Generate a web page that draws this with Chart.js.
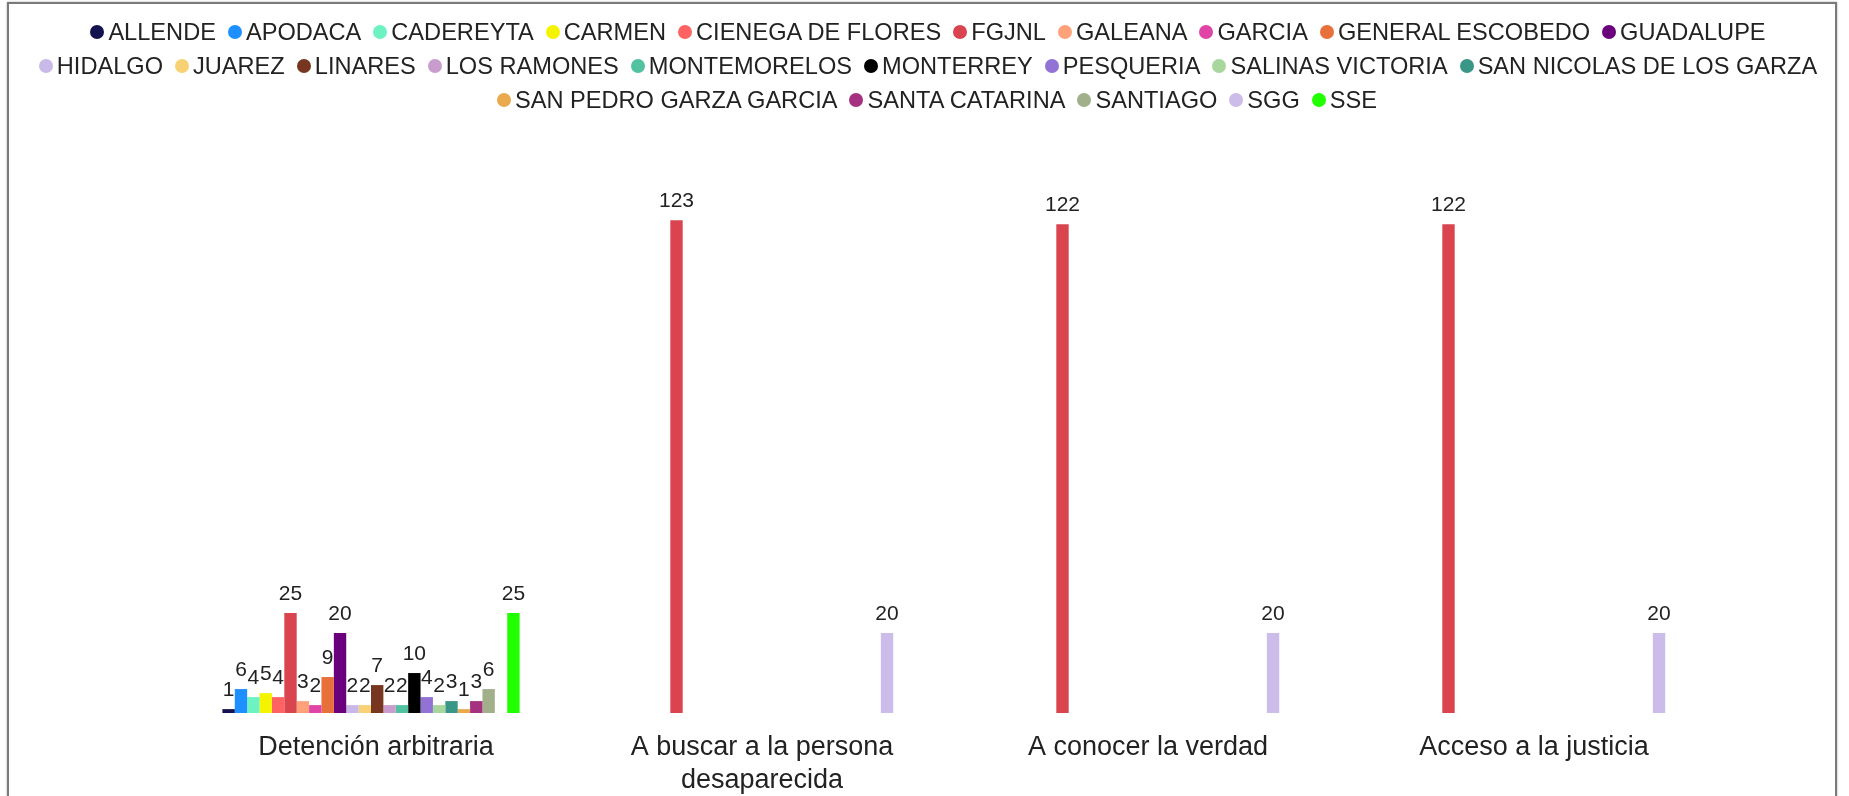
<!DOCTYPE html>
<html>
<head>
<meta charset="utf-8">
<script src="https://cdn.jsdelivr.net/npm/chart.js@4.4.1/dist/chart.umd.min.js"></script>
<style>
body { margin: 0; background: #fff; overflow: hidden; }
#frame {
position: absolute; left: 7px; top: 2px; width: 1826px; height: 830px;
border: 2px solid #7a7a7a; box-shadow: 0 0 2px #aaa;
}
#wrap { position: absolute; left: 0; top: 0; width: 1826px; height: 813px; }
#legend {
position: absolute; left: 0; top: 15px; width: 1856px;
font-family: "Liberation Sans", Arial, sans-serif; font-size: 23.6px; color: #222;
}
#legend .row { display: flex; justify-content: center; height: 34px; align-items: center; }
#legend .row:nth-child(3) { padding-left: 18px; }
#legend .item { display: flex; align-items: center; margin: 0 6px; white-space: nowrap; }
#legend .dot { width: 14px; height: 14px; border-radius: 50%; margin-right: 4px; }
</style>
</head>
<body>
<div id="frame"><div id="wrap"><canvas id="chart"></canvas></div></div>
<div id="legend"></div>
<script>
// Categories (x axis)
const categories = [
'Detención arbitraria',
['A buscar a la persona', 'desaparecida'],
'A conocer la verdad',
'Acceso a la justicia'
];

// Series (one per authority)
const seriesNames = [
'ALLENDE', 'APODACA', 'CADEREYTA', 'CARMEN', 'CIENEGA DE FLORES', 'FGJNL',
'GALEANA', 'GARCIA', 'GENERAL ESCOBEDO', 'GUADALUPE', 'HIDALGO', 'JUAREZ',
'LINARES', 'LOS RAMONES', 'MONTEMORELOS', 'MONTERREY', 'PESQUERIA',
'SALINAS VICTORIA', 'SAN NICOLAS DE LOS GARZA', 'SAN PEDRO GARZA GARCIA',
'SANTA CATARINA', 'SANTIAGO', 'SGG', 'SSE'
];
const seriesColors = [
'#14134f', '#1e8fff', '#6cf3c1', '#f4f400', '#ff6262', '#d9444f',
'#ffa27a', '#df44a6', '#e8703a', '#6b007d', '#c9b9e9', '#f8d174',
'#773620', '#c89ccd', '#52c1a0', '#000000', '#9272d4',
'#a7d79c', '#3a9686', '#e9a94c',
'#a6317f', '#a1b08a', '#cbbcea', '#22ff00'
];
// legend lines start at these series
const legendRowStarts = [0, 10, 19];

// Values per category, in series order
const detencion = [1, 6, 4, 5, 4, 25, 3, 2, 9, 20, 2, 2, 7, 2, 2, 10, 4, 2, 3, 1, 3, 6, null, 25];
const buscar = [null, null, null, null, null, 123, null, null, null, null, null, null,
null, null, null, null, null, null, null, null, null, null, 20, null];
const verdad = [null, null, null, null, null, 122, null, null, null, null, null, null,
null, null, null, null, null, null, null, null, null, null, 20, null];
const justicia = [null, null, null, null, null, 122, null, null, null, null, null, null,
null, null, null, null, null, null, null, null, null, null, 20, null];

const FONT = '"Liberation Sans", Arial, sans-serif';

const datasets = seriesNames.map((name, i) => ({
label: name,
data: [detencion[i], buscar[i], verdad[i], justicia[i]],
backgroundColor: seriesColors[i],
borderWidth: 0,
barPercentage: 1.0,
categoryPercentage: 0.77
}));

// Value labels above bars
const valueLabels = {
id: 'valueLabels',
afterDatasetsDraw(chart) {
const ctx = chart.ctx;
ctx.save();
ctx.font = '21px ' + FONT;
ctx.fillStyle = '#222';
ctx.textAlign = 'center';
ctx.textBaseline = 'middle';
chart.data.datasets.forEach((ds, i) => {
chart.getDatasetMeta(i).data.forEach((bar, j) => {
const v = ds.data[j];
if (v == null) return;
ctx.fillText(String(v), bar.x, bar.y - 19);
});
});
ctx.restore();
}
};

// HTML legend with fixed line breaks
const htmlLegend = {
id: 'htmlLegend',
afterUpdate(chart) {
const box = document.getElementById('legend');
box.innerHTML = '';
const items = chart.options.plugins.legend.labels.generateLabels(chart);
let row = null;
items.forEach((item, i) => {
if (legendRowStarts.includes(i)) {
row = document.createElement('div');
row.className = 'row';
box.appendChild(row);
}
const el = document.createElement('span');
el.className = 'item';
const dot = document.createElement('span');
dot.className = 'dot';
dot.style.background = item.fillStyle;
el.appendChild(dot);
el.appendChild(document.createTextNode(item.text));
row.appendChild(el);
});
}
};

const ctx = document.getElementById('chart').getContext('2d');
const chart = new Chart(ctx, {
type: 'bar',
data: { labels: categories, datasets: datasets },
options: {
responsive: true,
maintainAspectRatio: false,
animation: false,
layout: { padding: { top: 120, bottom: 2, left: 0, right: 0 } },
plugins: {
tooltip: { enabled: false },
legend: { display: false }
},
scales: {
x: {
grid: { display: false, drawTicks: false },
border: { display: false },
ticks: {
color: '#222',
padding: 18,
maxRotation: 0,
autoSkip: false,
labelOffset: 5,
font: { family: FONT, size: 27, lineHeight: 1.22 }
}
},
y: {
min: 0,
max: 147,
grid: { display: false, drawTicks: false },
border: { display: false },
ticks: { display: false },
afterFit(scale) { scale.width = 169; }
},
yr: {
position: 'right',
grid: { display: false, drawTicks: false },
border: { display: false },
ticks: { display: false },
afterFit(scale) { scale.width = 113; }
}
}
},
plugins: [valueLabels, htmlLegend]
});
</script>
</body>
</html>
